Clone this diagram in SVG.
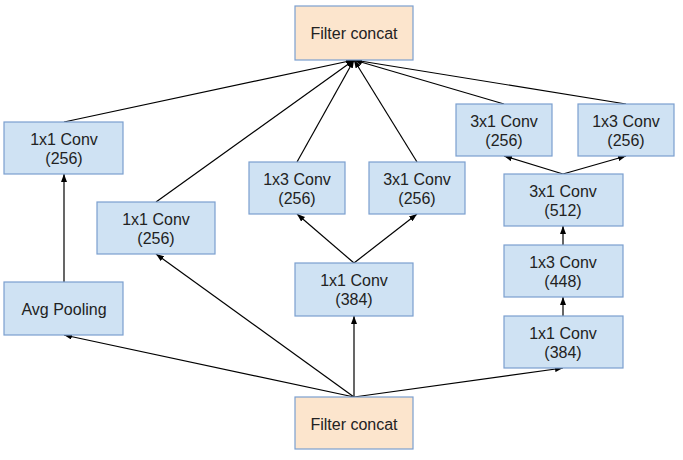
<svg xmlns="http://www.w3.org/2000/svg" width="683" height="460" viewBox="0 0 683 460">
<style>
.b{fill:#cfe2f3;stroke:#7b9fcf;stroke-width:1.2}
.o{fill:#fce5cd;stroke:#7b9fcf;stroke-width:1.2}
text{font-family:"Liberation Sans",Arial,sans-serif;font-size:16px;fill:#222;text-anchor:middle}
#edges line{stroke:#000;stroke-width:1.2;marker-end:url(#ah)}
</style>
<defs>
<marker id="ah" markerWidth="8" markerHeight="6" refX="8" refY="3" orient="auto" markerUnits="userSpaceOnUse">
<path d="M0,0 L8,3 L0,6 z" fill="#000"/>
</marker>
</defs>
<rect width="683" height="460" fill="#fff"/>
<g id="edges">
<line x1="64" y1="122" x2="354" y2="60"/>
<line x1="156" y1="202" x2="354" y2="60"/>
<line x1="297" y1="162" x2="354" y2="60"/>
<line x1="417" y1="162" x2="354" y2="60"/>
<line x1="504" y1="104" x2="354" y2="60"/>
<line x1="626" y1="104" x2="354" y2="60"/>
<line x1="354" y1="397" x2="64" y2="335"/>
<line x1="354" y1="397" x2="156" y2="254"/>
<line x1="354" y1="397" x2="354" y2="316"/>
<line x1="354" y1="397" x2="563" y2="368"/>
<line x1="64" y1="282" x2="64" y2="174"/>
<line x1="354" y1="263" x2="297" y2="214"/>
<line x1="354" y1="263" x2="417" y2="214"/>
<line x1="563" y1="316" x2="563" y2="297"/>
<line x1="563" y1="245" x2="563" y2="226"/>
<line x1="563" y1="174" x2="504" y2="156"/>
<line x1="563" y1="174" x2="626" y2="156"/>
</g>
<g id="concat_top"><rect class="o" x="295" y="6" width="118" height="54"/><text x="354" y="39">Filter concat</text></g>
<g id="concat_bottom"><rect class="o" x="295" y="397" width="118" height="52"/><text x="354" y="430">Filter concat</text></g>
<g id="conv1_pool"><rect class="b" x="4" y="122" width="119" height="52"/><text x="64" y="145">1x1 Conv</text><text x="64" y="164">(256)</text></g>
<g id="avgpool"><rect class="b" x="4" y="282" width="119" height="53"/><text x="64" y="315">Avg Pooling</text></g>
<g id="conv1_b1"><rect class="b" x="97" y="202" width="118" height="52"/><text x="156" y="225">1x1 Conv</text><text x="156" y="244">(256)</text></g>
<g id="conv1_b2"><rect class="b" x="295" y="263" width="118" height="53"/><text x="354" y="286">1x1 Conv</text><text x="354" y="305">(384)</text></g>
<g id="conv13_b2"><rect class="b" x="249" y="162" width="96" height="52"/><text x="297" y="185">1x3 Conv</text><text x="297" y="204">(256)</text></g>
<g id="conv31_b2"><rect class="b" x="369" y="162" width="96" height="52"/><text x="417" y="185">3x1 Conv</text><text x="417" y="204">(256)</text></g>
<g id="conv1_b3"><rect class="b" x="504" y="316" width="119" height="52"/><text x="563" y="339">1x1 Conv</text><text x="563" y="358">(384)</text></g>
<g id="conv13_b3"><rect class="b" x="504" y="245" width="119" height="52"/><text x="563" y="268">1x3 Conv</text><text x="563" y="287">(448)</text></g>
<g id="conv31_b3"><rect class="b" x="504" y="174" width="119" height="52"/><text x="563" y="197">3x1 Conv</text><text x="563" y="216">(512)</text></g>
<g id="conv31_out"><rect class="b" x="456" y="104" width="96" height="52"/><text x="504" y="127">3x1 Conv</text><text x="504" y="146">(256)</text></g>
<g id="conv13_out"><rect class="b" x="578" y="104" width="96" height="52"/><text x="626" y="127">1x3 Conv</text><text x="626" y="146">(256)</text></g>
</svg>
